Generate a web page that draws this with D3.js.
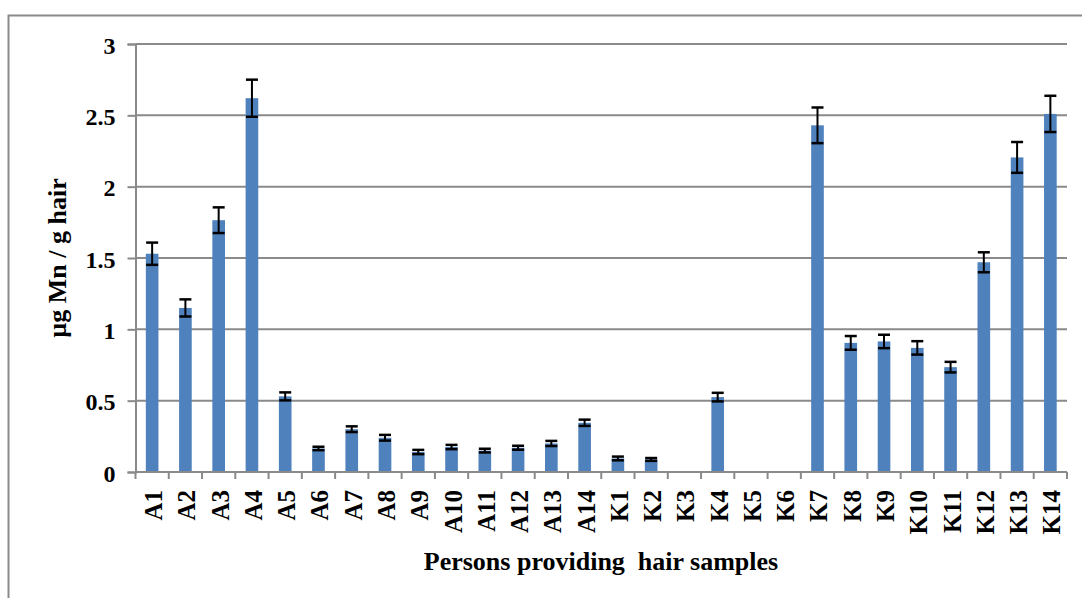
<html>
<head>
<script src="https://d3js.org/d3.v7.min.js"></script>
<style>
body { margin:0; padding:0; background:white; overflow:hidden; }
text { font-family: 'Liberation Serif', 'Times New Roman', serif; font-weight: bold; fill: black; }
</style>
</head>
<body>
<div id="chart"></div>
<script>
// persons providing hair samples
const persons = ["A1","A2","A3","A4","A5","A6","A7","A8","A9","A10","A11","A12","A13","A14",
                 "K1","K2","K3","K4","K5","K6","K7","K8","K9","K10","K11","K12","K13","K14"];
// µg Mn / g hair
const mnValues = [1.53,1.15,1.765,2.62,0.53,0.165,0.30,0.24,0.14,0.175,0.15,0.17,0.20,0.345,
                  0.095,0.088,0,0.525,0,0,2.43,0.905,0.915,0.87,0.735,1.47,2.205,2.51];
const mnErrors = [0.078,0.06,0.09,0.13,0.028,0.012,0.02,0.02,0.015,0.015,0.013,0.014,0.018,0.022,
                  0.013,0.01,0,0.03,0,0,0.125,0.048,0.047,0.047,0.037,0.07,0.108,0.127];
const yTicks = [0,0.5,1,1.5,2,2.5,3];

const W = 1082, H = 598;
const margin = {left:135.5, right:15, top:44, bottom:126};
const grey = "#8a8a8a";

const svg = d3.select("#chart").append("svg").attr("width", W).attr("height", H);

// outer frame (runs off the right/bottom edge)
svg.append("rect").attr("x",8.5).attr("y",15.5).attr("width",W+20).attr("height",H+20)
   .attr("fill","none").attr("stroke",grey).attr("stroke-width",2);

const x = d3.scaleBand().domain(persons).range([margin.left, W - margin.right]).paddingInner(0.62).paddingOuter(0.31);
const y = d3.scaleLinear().domain([0,3]).range([H - margin.bottom, margin.top]);

// grid
svg.append("g").selectAll("line").data(yTicks.filter(d=>d>0)).enter().append("line")
   .attr("x1", margin.left).attr("x2", W - margin.right)
   .attr("y1", d=>y(d)).attr("y2", d=>y(d))
   .attr("stroke",grey).attr("stroke-width",2);

// y axis
const yAxis = svg.append("g").attr("transform", `translate(${margin.left},0)`)
   .call(d3.axisLeft(y).tickValues(yTicks).tickSize(8).tickPadding(12).tickFormat(d3.format("")));
yAxis.select(".domain").attr("stroke",grey).attr("stroke-width",2);
yAxis.selectAll(".tick line").attr("stroke",grey).attr("stroke-width",2);
yAxis.selectAll(".tick text").attr("dy","0.38em").style("font-size","24px")
   .style("font-family","'Liberation Serif', serif").attr("fill","black");

// bars
svg.append("g").selectAll("rect").data(persons).enter().append("rect")
   .attr("x", d=>x(d)).attr("width", x.bandwidth())
   .attr("y", (d,i)=>y(mnValues[i])).attr("height", (d,i)=>y(0)-y(mnValues[i]))
   .attr("fill","#4f81bd");

// error bars
const eb = svg.append("g").selectAll("g").data(persons.filter((d,i)=>mnValues[i]>0)).enter().append("g");
const cx = d => x(d) + x.bandwidth()/2;
const idx = d => persons.indexOf(d);
eb.append("line").attr("x1",cx).attr("x2",cx)
  .attr("y1", d=>y(mnValues[idx(d)]+mnErrors[idx(d)])).attr("y2", d=>y(mnValues[idx(d)]-mnErrors[idx(d)]))
  .attr("stroke","black").attr("stroke-width",2);
[1,-1].forEach(s=>{
  eb.append("line").attr("x1",d=>cx(d)-6).attr("x2",d=>cx(d)+6)
    .attr("y1", d=>y(mnValues[idx(d)]+s*mnErrors[idx(d)])).attr("y2", d=>y(mnValues[idx(d)]+s*mnErrors[idx(d)]))
    .attr("stroke","black").attr("stroke-width",2.5);
});

// x axis with boundary ticks
const xAxisG = svg.append("g").attr("transform", `translate(0,${y(0)})`);
xAxisG.append("line").attr("x1", margin.left).attr("x2", W - margin.right)
   .attr("stroke",grey).attr("stroke-width",2);
const step = x.step();
xAxisG.selectAll(".bt").data(d3.range(persons.length+1)).enter().append("line")
   .attr("x1", i=>margin.left + i*step).attr("x2", i=>margin.left + i*step)
   .attr("y1",0).attr("y2",7).attr("stroke",grey).attr("stroke-width",2);
xAxisG.selectAll(".lbl").data(persons).enter().append("text")
   .attr("transform", d=>`translate(${cx(d)+1},18) rotate(-90)`)
   .attr("text-anchor","end").attr("dy","0.36em")
   .style("font-size","25px").text(d=>d);

// axis titles
svg.append("text").attr("x", 601).attr("y", 570).attr("text-anchor","middle")
   .style("font-size","26px").style("white-space","pre").text("Persons providing  hair samples");
svg.append("text").attr("transform", `translate(66,${(y(0)+y(3))/2}) rotate(-90)`)
   .attr("text-anchor","middle").style("font-size","26px").text("µg Mn / g hair");
</script>
</body>
</html>
